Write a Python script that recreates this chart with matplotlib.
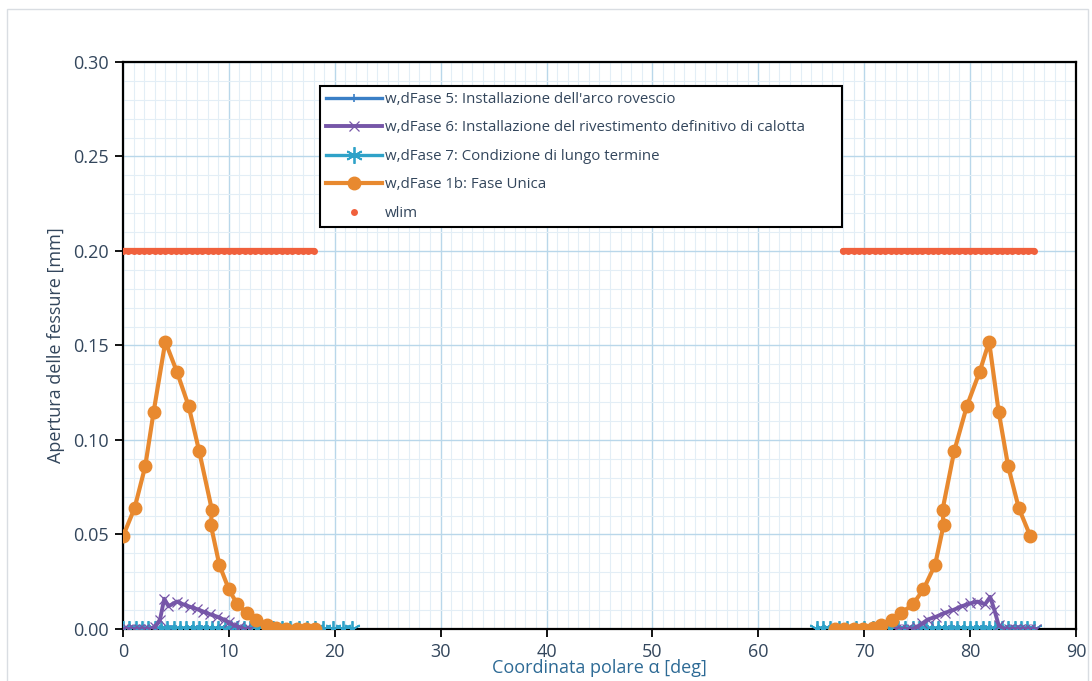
import matplotlib
matplotlib.use("Agg")
import matplotlib.pyplot as plt
from matplotlib.ticker import MultipleLocator

plt.rcParams['font.family'] = ['Open Sans', 'DejaVu Sans']

# ---------------- data ----------------
# w,dFase 1b: Fase Unica (orange)
f1b_left_x = [0.0, 1.1, 2.1, 2.9, 4.0, 5.1, 6.2, 7.2, 8.4, 8.3, 9.1, 10.0, 10.8, 11.7,
              12.6, 13.6, 14.5, 15.4, 16.4, 17.3, 18.1]
f1b_left_y = [0.049, 0.064, 0.086, 0.115, 0.152, 0.136, 0.118, 0.094, 0.063, 0.055, 0.034,
              0.021, 0.013, 0.0085, 0.005, 0.002, 0.0007, 0.0002, 0.0, 0.0, 0.0]
f1b_right_x = [67.2, 68.1, 69.0, 69.9, 70.8, 71.6, 72.6, 73.5, 74.6, 75.6, 76.7, 77.5, 77.4,
               78.5, 79.7, 80.9, 81.8, 82.7, 83.6, 84.6, 85.7]
f1b_right_y = [0.0, 0.0, 0.0, 0.0002, 0.0007, 0.002, 0.005, 0.0085, 0.013, 0.021, 0.034,
               0.055, 0.063, 0.094, 0.118, 0.136, 0.152, 0.115, 0.086, 0.064, 0.049]

# w,dFase 6 (purple)
f6_left_x = [0.0, 0.5, 1.0, 1.5, 2.0, 2.5, 3.0, 3.5, 3.9, 4.3, 5.1, 5.7, 6.3, 7.0, 7.6,
             8.2, 8.9, 9.5, 10.0, 10.5, 11.0, 11.5, 12.0]
f6_left_y = [0.0, 0.0, 0.0, 0.0, 0.0, 0.0, 0.001, 0.005, 0.016, 0.012, 0.0145, 0.013,
             0.0118, 0.0105, 0.0092, 0.0078, 0.0065, 0.005, 0.0035, 0.002, 0.001, 0.0, 0.0]
f6_right_x = [73.0, 73.5, 74.0, 74.5, 75.0, 75.5, 76.0, 76.8, 77.6, 78.4, 79.2, 80.0, 80.7,
              81.4, 81.9, 82.3, 82.7, 83.2, 83.7, 84.2, 84.7, 85.2, 85.7, 86.2]
f6_right_y = [0.0, 0.0, 0.0, 0.0, 0.001, 0.003, 0.005, 0.0065, 0.0085, 0.010, 0.012, 0.0135,
              0.0145, 0.013, 0.017, 0.010, 0.002, 0.0, 0.0, 0.0, 0.0, 0.0, 0.0, 0.0]

# w,dFase 5 (blue) - all zero
f5_left_x = [0.0, 0.5, 1.0, 1.5, 2.0, 2.5, 3.0, 3.5, 4.0, 4.5, 5.0, 5.5, 6.0, 6.5, 7.0,
             7.5, 8.0, 8.5, 9.0, 9.5, 10.0, 10.5, 11.0, 11.5, 12.0]
f5_left_y = [0.0, 0.0, 0.0, 0.0, 0.0, 0.0, 0.0, 0.0, 0.0, 0.0, 0.0, 0.0, 0.0, 0.0, 0.0,
             0.0, 0.0, 0.0, 0.0, 0.0, 0.0, 0.0, 0.0, 0.0, 0.0]
f5_right_x = [74.0, 74.5, 75.0, 75.5, 76.0, 76.5, 77.0, 77.5, 78.0, 78.5, 79.0, 79.5, 80.0,
              80.5, 81.0, 81.5, 82.0, 82.5, 83.0, 83.5, 84.0, 84.5, 85.0, 85.5, 86.0]
f5_right_y = [0.0, 0.0, 0.0, 0.0, 0.0, 0.0, 0.0, 0.0, 0.0, 0.0, 0.0, 0.0, 0.0,
              0.0, 0.0, 0.0, 0.0, 0.0, 0.0, 0.0, 0.0, 0.0, 0.0, 0.0, 0.0]

# w,dFase 7 (teal) - all zero
f7_left_x = [0.0, 0.6, 1.2, 1.8, 2.4, 3.0, 3.6, 4.2, 4.8, 5.4, 6.0, 6.6, 7.2, 7.8, 8.4,
             9.0, 9.6, 10.2, 10.8, 11.4, 12.0, 12.7, 13.4, 14.2, 15.0, 15.8, 16.6, 17.4,
             18.1, 18.9, 19.8, 20.8, 21.6]
f7_left_y = [0.0, 0.0, 0.0, 0.0, 0.0, 0.0, 0.0, 0.0, 0.0, 0.0, 0.0, 0.0, 0.0, 0.0, 0.0,
             0.0, 0.0, 0.0, 0.0, 0.0, 0.0, 0.0, 0.0, 0.0, 0.0, 0.0, 0.0, 0.0,
             0.0, 0.0, 0.0, 0.0, 0.0]
f7_right_x = [65.5, 66.1, 66.8, 67.6, 68.4, 69.2, 70.0, 70.8, 71.6, 72.4, 73.2, 73.9, 74.6,
              75.2, 75.8, 76.4, 77.0, 77.6, 78.2, 78.8, 79.4, 80.0, 80.6, 81.2, 81.8, 82.4,
              83.0, 83.6, 84.2, 84.8, 85.4, 86.0]
f7_right_y = [0.0, 0.0, 0.0, 0.0, 0.0, 0.0, 0.0, 0.0, 0.0, 0.0, 0.0, 0.0, 0.0,
              0.0, 0.0, 0.0, 0.0, 0.0, 0.0, 0.0, 0.0, 0.0, 0.0, 0.0, 0.0, 0.0,
              0.0, 0.0, 0.0, 0.0, 0.0, 0.0]

# wlim (red-orange dots, densely spaced)
wlim_left_x = [0.0, 0.5, 1.0, 1.5, 2.0, 2.5, 3.0, 3.5, 4.0, 4.5, 5.0, 5.5, 6.0, 6.5, 7.0,
               7.5, 8.0, 8.5, 9.0, 9.5, 10.0, 10.5, 11.0, 11.5, 12.0, 12.5, 13.0, 13.5,
               14.0, 14.5, 15.0, 15.5, 16.0, 16.5, 17.0, 17.5, 18.0]
wlim_right_x = [68.0, 68.5, 69.0, 69.5, 70.0, 70.5, 71.0, 71.5, 72.0, 72.5, 73.0, 73.5,
                74.0, 74.5, 75.0, 75.5, 76.0, 76.5, 77.0, 77.5, 78.0, 78.5, 79.0, 79.5,
                80.0, 80.5, 81.0, 81.5, 82.0, 82.5, 83.0, 83.5, 84.0, 84.5, 85.0, 85.5, 86.0]
wlim_value = 0.20

labels = ["w,dFase 5: Installazione dell'arco rovescio",
          "w,dFase 6: Installazione del rivestimento definitivo di calotta",
          "w,dFase 7: Condizione di lungo termine",
          "w,dFase 1b: Fase Unica",
          "wlim"]

c5 = "#3a7fc6"
c6 = "#7656a8"
c7 = "#2fa2c8"
c1b = "#e8892f"
clim = "#f0603c"
txt = "#33465c"

# ---------------- figure ----------------
fig = plt.figure(figsize=(10.92, 6.81), dpi=100)
ax = fig.add_axes([0.1126, 0.0764, 0.8727, 0.8326])

h5, = ax.plot(f5_left_x, f5_left_y, color=c5, lw=2.4, marker='|', ms=6, mew=1.2, zorder=3)
ax.plot(f5_right_x, f5_right_y, color=c5, lw=2.4, marker='|', ms=6, mew=1.2, zorder=3)
h6, = ax.plot(f6_left_x, f6_left_y, color=c6, lw=2.8, marker='x', ms=7, mew=0.9, zorder=4)
ax.plot(f6_right_x, f6_right_y, color=c6, lw=2.8, marker='x', ms=7, mew=0.9, zorder=4)
h7, = ax.plot(f7_left_x, f7_left_y, color=c7, lw=2.4, marker=(6, 2, 0), ms=12, mew=1.3, zorder=3.5)
ax.plot(f7_right_x, f7_right_y, color=c7, lw=2.4, marker=(6, 2, 0), ms=12, mew=1.3, zorder=3.5)
h1b, = ax.plot(f1b_left_x, f1b_left_y, color=c1b, lw=3.0, marker='o', ms=9, zorder=5)
ax.plot(f1b_right_x, f1b_right_y, color=c1b, lw=3.0, marker='o', ms=9, zorder=5)
# wlim: densely packed dots that merge into a thick band
hl, = ax.plot(wlim_left_x, [wlim_value] * len(wlim_left_x), ls='none', color=clim,
              marker='o', ms=5, mew=0, zorder=5)
ax.plot(wlim_right_x, [wlim_value] * len(wlim_right_x), ls='none', color=clim,
        marker='o', ms=5, mew=0, zorder=5)
ax.plot(wlim_left_x, [wlim_value] * len(wlim_left_x), ls='-', lw=4.5, color=clim,
        solid_capstyle='round', zorder=5)
ax.plot(wlim_right_x, [wlim_value] * len(wlim_right_x), ls='-', lw=4.5, color=clim,
        solid_capstyle='round', zorder=5)

ax.set_xlim(0, 90)
ax.set_ylim(0, 0.30)
ax.xaxis.set_major_locator(MultipleLocator(10))
ax.xaxis.set_minor_locator(MultipleLocator(1))
ax.yaxis.set_major_locator(MultipleLocator(0.05))
ax.yaxis.set_minor_locator(MultipleLocator(0.01))
ax.yaxis.set_major_formatter(matplotlib.ticker.FormatStrFormatter('%.2f'))

ax.grid(which='major', color='#b9d7ea', lw=1.0)
ax.grid(which='minor', color='#e3eef6', lw=0.8)
ax.set_axisbelow(True)

for s in ax.spines.values():
    s.set_color('black')
    s.set_linewidth(1.6)

ax.tick_params(which='major', direction='out', length=6, width=1.3, colors='black',
               labelcolor=txt, labelsize=13, pad=4)
ax.tick_params(which='minor', length=0)

ax.set_ylabel("Apertura delle fessure [mm]", fontsize=13, color=txt, labelpad=6)
ax.set_xlabel("Coordinata polare α [deg]", fontsize=13, color="#2d6a95", labelpad=-1)

leg = ax.legend([h5, h6, h7, h1b, hl], labels, loc='upper left',
                bbox_to_anchor=(0.207, 0.755, 0.548, 0.203), mode='expand',
                fontsize=10.8, frameon=True,
                fancybox=False, edgecolor='black', framealpha=1.0,
                handlelength=3.7, handletextpad=0.2, labelspacing=0.9,
                borderpad=0.4, borderaxespad=0.0)
leg.get_frame().set_linewidth(1.5)
for t in leg.get_texts():
    t.set_color(txt)

# light outer chart border
fig.patches.append(matplotlib.patches.Rectangle((0.006, -0.01), 0.99, 0.997,
                   transform=fig.transFigure, fill=False, edgecolor='#d9dde2', lw=1.0))

fig.savefig("out.png", dpi=100)
